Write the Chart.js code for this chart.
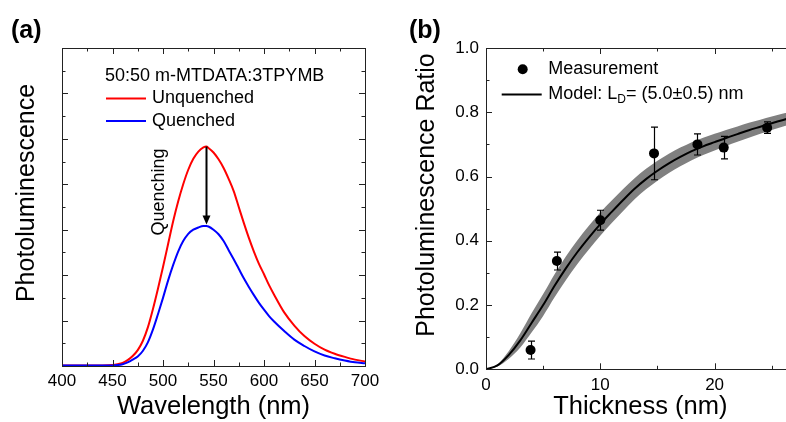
<!DOCTYPE html>
<html>
<head>
<meta charset="utf-8">
<script src="https://cdn.jsdelivr.net/npm/chart.js@4.4.0/dist/chart.umd.min.js"></script>
<style>
  html, body { margin:0; padding:0; background:#fff; overflow:hidden; width:786px; height:422px; position:relative; }
  canvas { position:absolute; top:0; }
  #chartA { left:0; }
  #chartB { left:393px; }
</style>
</head>
<body>
<canvas id="chartA" width="393" height="422"></canvas>
<canvas id="chartB" width="410" height="422"></canvas>
<script>
// (a) PL spectra, arbitrary units
const wavelength = [400,410,420,430,440,450,455,460,465,470,475,480,485,490,495,500,505,510,515,520,525,530,535,540,543,
  545,550,555,560,565,570,575,580,585,590,595,600,605,610,620,630,640,650,660,670,680,690,700];
const unquenched = [.01,.01,.01,.01,.01,.02,.04,.07,.13,.22,.35,.55,.85,1.25,1.7,2.18,2.68,3.18,3.62,4.0,4.32,4.56,4.72,4.81,4.83,
  4.8,4.7,4.55,4.36,4.12,3.85,3.5,3.15,2.82,2.52,2.25,2.02,1.78,1.57,1.18,.89,.66,.49,.36,.27,.2,.14,.1];
const quenched = [.01,.01,.01,.01,.01,.01,.02,.04,.08,.14,.21,.33,.52,.8,1.14,1.5,1.88,2.22,2.52,2.75,2.91,3.0,3.05,3.08,3.08,
  3.07,3.0,2.9,2.75,2.55,2.35,2.14,1.93,1.74,1.56,1.39,1.24,1.1,.98,.77,.58,.44,.32,.23,.17,.12,.08,.06];
const wavelengthTicks = [400,450,500,550,600,650,700];
const arrowAt = 543;

// (b) PL ratio vs thickness
const thickness = [3.9, 6.2, 10.0, 14.7, 18.5, 20.8, 24.6];
const plRatio = [0.06, 0.337, 0.464, 0.672, 0.70, 0.69, 0.752];
const plError = [0.028, 0.028, 0.031, 0.082, 0.033, 0.035, 0.018];
const modelX = [0,1,2,3,4,5,6,7,8,9,10,11,12,13,14,15,16,17,18,19,20,21,22,23,24,25,26,27];
const modelY = [0,.012,.045,.09,.145,.2,.26,.315,.365,.41,.452,.49,.527,.562,.592,.618,.641,.661,.679,.694,.707,.72,.732,.744,.755,.766,.776,.785];
const modelUpper = [0,.015,.057,.112,.175,.234,.296,.352,.402,.447,.488,.525,.561,.595,.624,.649,.671,.69,.707,.721,.733,.745,.756,.767,.777,.787,.796,.804];
const modelLower = [0,.009,.033,.068,.115,.166,.224,.278,.328,.373,.416,.455,.493,.529,.56,.587,.611,.632,.651,.667,.681,.695,.708,.721,.733,.745,.756,.766];
const thicknessTicks = [0,10,20];
const ratioTicks = [0,0.2,0.4,0.6,0.8,1.0];

const FONT = '"Liberation Sans", Arial, sans-serif';
Chart.defaults.font.family = FONT;
Chart.defaults.color = '#000';

const pts = (xs, ys) => xs.map((v, i) => ({x: v, y: ys[i]}));

// box + inward ticks on all sides
const frame = {
  id: 'frame',
  afterDatasetsDraw(chart, args, o) {
    const {ctx, chartArea: a, scales: {x, y}} = chart;
    ctx.save();
    ctx.strokeStyle = '#222';
    ctx.lineWidth = 1;
    ctx.strokeRect(Math.round(a.left) + 0.5, Math.round(a.top) + 0.5,
      Math.round(a.right - a.left), Math.round(a.bottom - a.top));
    ctx.beginPath();
    const nx = Math.round((x.max - x.min) / o.xMinor);
    for (let i = 0; i <= nx; i++) {
      const v = x.min + i * o.xMinor;
      const r = v / o.xMajor;
      const len = Math.abs(r - Math.round(r)) < 1e-6 ? 6 : 3.5;
      const p = Math.round(x.getPixelForValue(v)) + 0.5;
      ctx.moveTo(p, a.bottom); ctx.lineTo(p, a.bottom - len);
      ctx.moveTo(p, a.top); ctx.lineTo(p, a.top + len);
    }
    const ny = Math.round((y.max - y.min) / o.yMinor);
    for (let i = 0; i <= ny; i++) {
      const v = y.min + i * o.yMinor;
      const r = v / o.yMajor;
      const len = Math.abs(r - Math.round(r)) < 1e-6 ? 6 : 3.5;
      const p = Math.round(y.getPixelForValue(v)) + 0.5;
      ctx.moveTo(a.left, p); ctx.lineTo(a.left + len, p);
      ctx.moveTo(a.right, p); ctx.lineTo(a.right - len, p);
    }
    ctx.stroke();
    ctx.restore();
  }
};

function vTitle(ctx, text, x, y) {
  ctx.save();
  ctx.translate(x, y);
  ctx.rotate(-Math.PI / 2);
  ctx.textAlign = 'center';
  ctx.textBaseline = 'alphabetic';
  ctx.fillText(text, 0, 0);
  ctx.restore();
}

// panel (a) texts, legend and arrow
const notesA = {
  id: 'notesA',
  afterDraw(chart) {
    const {ctx, scales: {x, y}} = chart;
    ctx.save();
    ctx.fillStyle = '#000';
    ctx.font = 'bold 25px ' + FONT;
    ctx.fillText('(a)', 11, 37.5);
    ctx.font = '25px ' + FONT;
    vTitle(ctx, 'Photoluminescence', 34, 193);

    ctx.font = '18px ' + FONT;
    ctx.textBaseline = 'middle';
    ctx.fillText('50:50 m-MTDATA:3TPYMB', 105, 76);
    ctx.lineWidth = 2;
    ctx.strokeStyle = '#ff0000';
    ctx.beginPath(); ctx.moveTo(106, 98.5); ctx.lineTo(146, 98.5); ctx.stroke();
    ctx.fillText('Unquenched', 152, 98.5);
    ctx.strokeStyle = '#0000ff';
    ctx.beginPath(); ctx.moveTo(106, 121); ctx.lineTo(146, 121); ctx.stroke();
    ctx.fillText('Quenched', 152, 121);

    vTitle(ctx, 'Quenching', 164, 192);

    // arrow between the two peaks
    const px = Math.round(x.getPixelForValue(arrowAt)) + 0.5;
    const y1 = y.getPixelForValue(Math.max(...unquenched));
    const y2 = y.getPixelForValue(Math.max(...quenched)) - 1.5;
    ctx.strokeStyle = '#000';
    ctx.lineWidth = 2;
    ctx.beginPath(); ctx.moveTo(px, y1); ctx.lineTo(px, y2 - 7); ctx.stroke();
    ctx.fillStyle = '#000';
    ctx.beginPath();
    ctx.moveTo(px - 4, y2 - 9); ctx.lineTo(px + 4, y2 - 9); ctx.lineTo(px, y2); ctx.closePath();
    ctx.fill();
    ctx.restore();
  }
};

// panel (b) texts, legend and error bars
const notesB = {
  id: 'notesB',
  afterDatasetsDraw(chart) {
    const {ctx, scales: {x, y}} = chart;
    ctx.save();
    ctx.strokeStyle = '#000';
    ctx.lineWidth = 1.2;
    ctx.beginPath();
    thickness.forEach((t, i) => {
      const px = Math.round(x.getPixelForValue(t)) + 0.5;
      const top = y.getPixelForValue(plRatio[i] + plError[i]);
      const bot = y.getPixelForValue(plRatio[i] - plError[i]);
      ctx.moveTo(px, top); ctx.lineTo(px, bot);
      ctx.moveTo(px - 3.5, top); ctx.lineTo(px + 3.5, top);
      ctx.moveTo(px - 3.5, bot); ctx.lineTo(px + 3.5, bot);
    });
    ctx.stroke();
    ctx.restore();
  },
  afterDraw(chart) {
    const {ctx} = chart;
    ctx.save();
    ctx.fillStyle = '#000';
    ctx.font = 'bold 25px ' + FONT;
    ctx.fillText('(b)', 16, 37.5);
    ctx.font = '25px ' + FONT;
    vTitle(ctx, 'Photoluminescence Ratio', 41, 195);

    ctx.font = '18px ' + FONT;
    ctx.textBaseline = 'middle';
    ctx.beginPath(); ctx.arc(129.7, 69.3, 5, 0, Math.PI * 2); ctx.fill();
    ctx.fillText('Measurement', 155.3, 69.5);
    ctx.strokeStyle = '#000';
    ctx.lineWidth = 2;
    ctx.beginPath(); ctx.moveTo(108.7, 94.5); ctx.lineTo(148.7, 94.5); ctx.stroke();
    let tx = 155.3;
    ctx.fillText('Model: L', tx, 94.5);
    tx += ctx.measureText('Model: L').width;
    ctx.font = '12px ' + FONT;
    ctx.fillText('D', tx, 100);
    tx += ctx.measureText('D').width;
    ctx.font = '18px ' + FONT;
    ctx.fillText('= (5.0\u00b10.5) nm', tx, 94.5);
    ctx.restore();
  }
};

new Chart(document.getElementById('chartA'), {
  type: 'line',
  data: {
    datasets: [
      {data: pts(wavelength, quenched), borderColor: '#0000ff', borderWidth: 2, pointRadius: 0, cubicInterpolationMode: 'monotone'},
      {data: pts(wavelength, unquenched), borderColor: '#ff0000', borderWidth: 2, pointRadius: 0, cubicInterpolationMode: 'monotone'}
    ]
  },
  options: {
    responsive: false,
    animation: false,
    devicePixelRatio: 1,
    layout: {padding: {left: 0, top: 48, right: 28, bottom: 0}},
    plugins: {
      legend: {display: false},
      tooltip: {enabled: false},
      frame: {xMajor: 50, xMinor: 25, yMajor: 1, yMinor: 0.5}
    },
    scales: {
      x: {
        type: 'linear', min: 400, max: 700,
        afterBuildTicks: s => { s.ticks = wavelengthTicks.map(v => ({value: v})); },
        afterFit: s => { s.height = 56; },
        ticks: {font: {size: 17}, padding: 5, color: '#000'},
        grid: {display: false, drawTicks: false},
        border: {display: false},
        title: {display: true, text: 'Wavelength (nm)', font: {size: 25.5}, padding: 0, color: '#000'}
      },
      y: {
        min: 0, max: 7,
        afterFit: s => { s.width = 62; },
        ticks: {display: false},
        grid: {display: false, drawTicks: false},
        border: {display: false}
      }
    }
  },
  plugins: [frame, notesA]
});

new Chart(document.getElementById('chartB'), {
  type: 'line',
  data: {
    datasets: [
      {data: pts(thickness, plRatio), showLine: false, pointRadius: 5, pointBackgroundColor: '#000', pointBorderWidth: 0, borderColor: '#000'},
      {data: pts(modelX, modelY), borderColor: '#000', borderWidth: 2, pointRadius: 0, cubicInterpolationMode: 'monotone'},
      {data: pts(modelX, modelUpper), borderWidth: 0, pointRadius: 0, backgroundColor: '#808080', fill: '+1', cubicInterpolationMode: 'monotone'},
      {data: pts(modelX, modelLower), borderWidth: 0, pointRadius: 0, cubicInterpolationMode: 'monotone'}
    ]
  },
  options: {
    responsive: false,
    animation: false,
    devicePixelRatio: 1,
    layout: {padding: {left: 0, top: 48, right: 8.4, bottom: 0}},
    plugins: {
      legend: {display: false},
      tooltip: {enabled: false},
      frame: {xMajor: 10, xMinor: 5, yMajor: 0.2, yMinor: 0.1}
    },
    scales: {
      x: {
        type: 'linear', min: 0, max: 27,
        afterBuildTicks: s => { s.ticks = thicknessTicks.map(v => ({value: v})); },
        afterFit: s => { s.height = 52.7; },
        ticks: {font: {size: 17}, padding: 6, color: '#000'},
        grid: {display: false, drawTicks: false},
        border: {display: false},
        title: {display: true, text: 'Thickness (nm)', font: {size: 25.5}, padding: 0, color: '#000'}
      },
      y: {
        min: 0, max: 1,
        afterBuildTicks: s => { s.ticks = ratioTicks.map(v => ({value: v})); },
        afterFit: s => { s.width = 93; },
        ticks: {font: {size: 17}, padding: 7, color: '#000', callback: v => v.toFixed(1)},
        grid: {display: false, drawTicks: false},
        border: {display: false}
      }
    }
  },
  plugins: [frame, notesB]
});
</script>
</body>
</html>
